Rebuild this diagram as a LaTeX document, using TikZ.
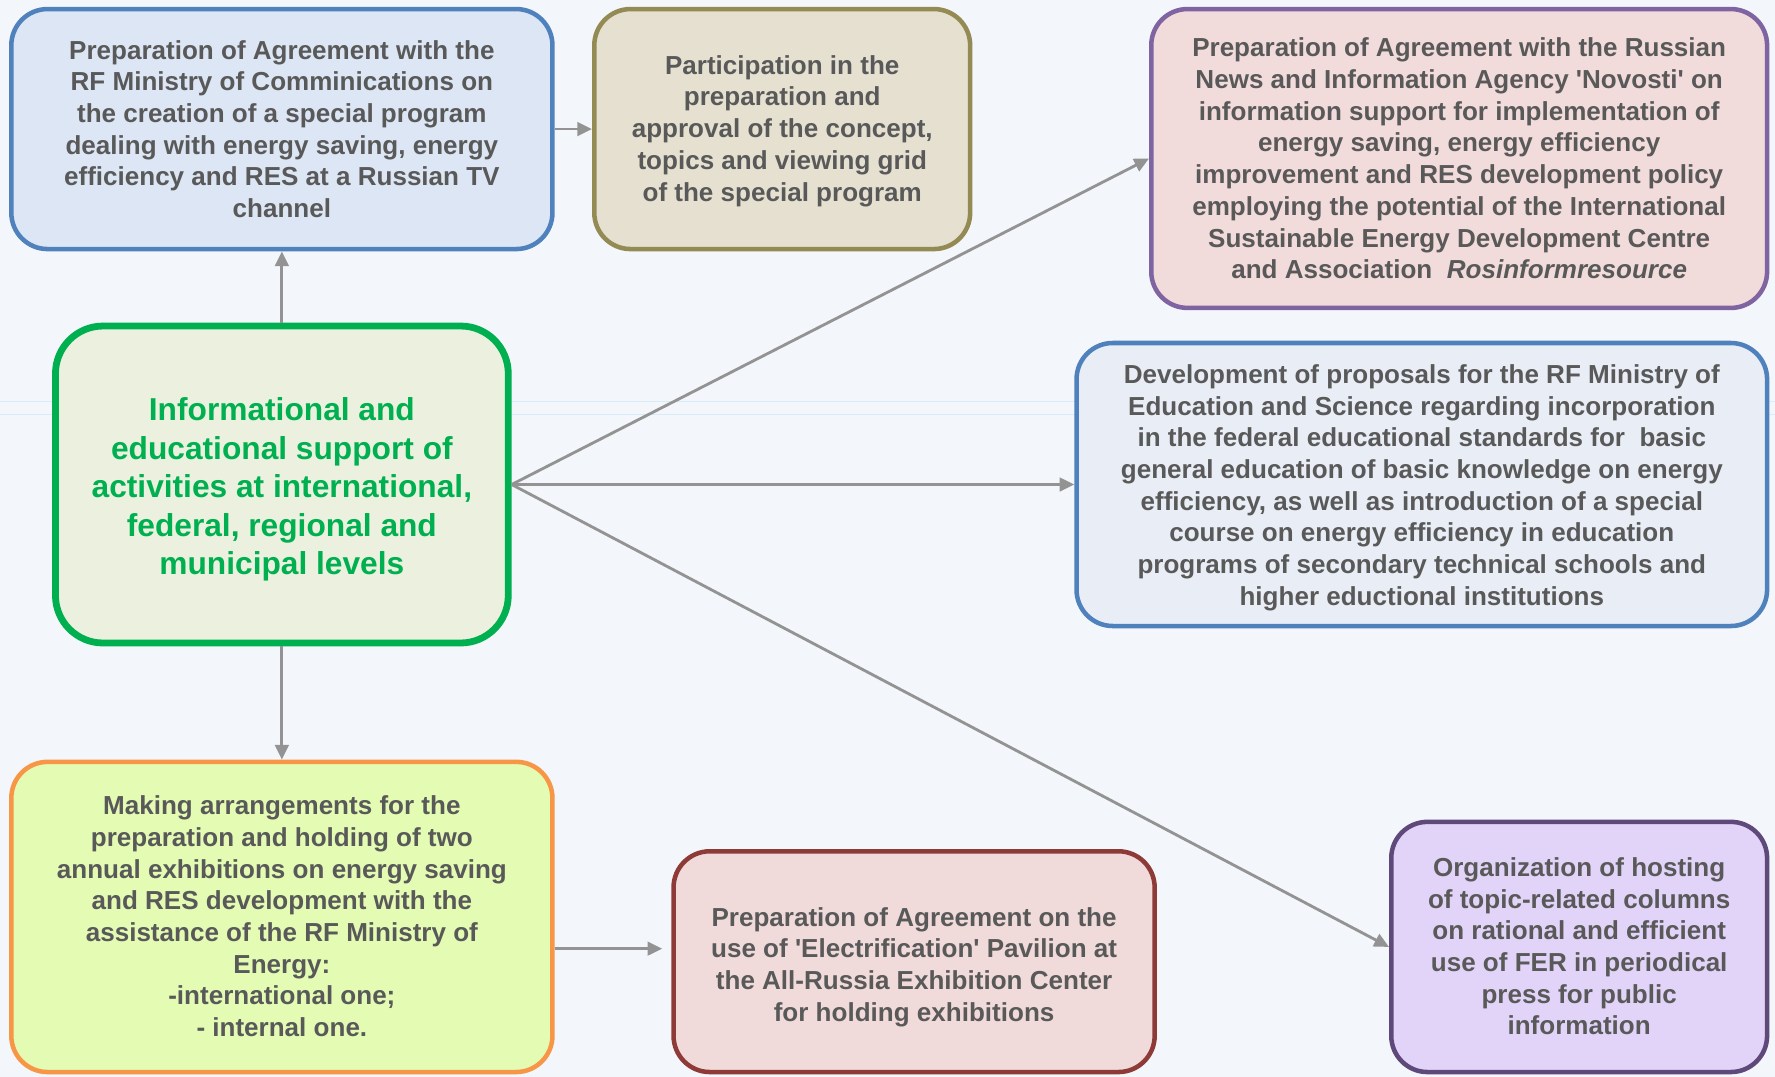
\documentclass[tikz,border=0pt]{standalone}
\usepackage{fontspec}
\newfontfamily\boxfont{Liberation Sans}
\usetikzlibrary{arrows.meta}
\definecolor{bg}{HTML}{F3F6FA}
\definecolor{txt}{HTML}{595959}
\definecolor{arrgray}{HTML}{939393}
\definecolor{bgline}{HTML}{D8ECF8}
\definecolor{fA}{HTML}{DCE6F4}\definecolor{dA}{HTML}{4F81BD}
\definecolor{fB}{HTML}{E5E0D0}\definecolor{dB}{HTML}{948A54}
\definecolor{fC}{HTML}{F2DCDB}\definecolor{dC}{HTML}{8064A2}
\definecolor{fD}{HTML}{EBF1DE}\definecolor{dD}{HTML}{00B050}
\definecolor{fE}{HTML}{E9EEF6}\definecolor{dE}{HTML}{4F81BD}
\definecolor{fF}{HTML}{E4FBB4}\definecolor{dF}{HTML}{F79646}
\definecolor{fG}{HTML}{F0DADA}\definecolor{dG}{HTML}{8E3B38}
\definecolor{fH}{HTML}{E2D4F8}\definecolor{dH}{HTML}{5F497A}
\newcommand\shiftedtext[2]{\raisebox{#1}[\height][\depth]{\begin{tabular}{@{}c@{}}#2\end{tabular}}}
\tikzset{
  box/.style={draw, line width=4pt, rounded corners=32pt, align=center, text=txt,
    font=\boxfont\bfseries\fontsize{23}{28}\selectfont, inner sep=0pt},
  arr/.style={draw=arrgray, line width=2.5pt, -{Triangle[length=13pt,width=12pt]}},
}
\begin{document}
\begin{tikzpicture}[x=1pt,y=-1pt]
\fill[bg] (0,0) rectangle (1568,951);
\useasboundingbox (0,0) rectangle (1568,951);
\draw[bgline, line width=0.8pt] (0,355) -- (1568,355);
\draw[bgline, line width=0.8pt] (0,366) -- (1568,366);

\node[box, fill=fA, draw=dA, minimum width=478pt, minimum height=212pt] (b1) at (249,114)
  {Preparation of Agreement with the\\RF Ministry of Comminications on\\the creation of a special program\\dealing with energy saving, energy\\efficiency and RES at a Russian TV\\channel};
\node[box, fill=fB, draw=dB, minimum width=332pt, minimum height=212pt] (b2) at (691,114)
  {\shiftedtext{-2pt}{Participation in the\\preparation and\\approval of the concept,\\topics and viewing grid\\of the special program}};
\node[box, fill=fC, draw=dC, minimum width=544pt, minimum height=264pt] (b3) at (1289,140)
  {Preparation of Agreement with the Russian\\News and Information Agency 'Novosti' on\\information support for implementation of\\energy saving, energy efficiency\\improvement and RES development policy\\employing the potential of the International\\Sustainable Energy Development Centre\\and Association \ \textit{Rosinformresource}};
\node[box, fill=fD, draw=dD, text=dD, line width=6pt, rounded corners=42pt,
  font=\boxfont\bfseries\fontsize{28}{34}\selectfont,
  minimum width=400pt, minimum height=280pt] (b4) at (249,428)
  {\shiftedtext{-5pt}{Informational and\\educational support of\\activities at international,\\federal, regional and\\municipal levels}};
\node[box, fill=fE, draw=dE, minimum width=610pt, minimum height=250pt] (b5) at (1256,428)
  {\shiftedtext{-3pt}{Development of proposals for the RF Ministry of\\Education and Science regarding incorporation\\in the federal educational standards for \ basic\\general education of basic knowledge on energy\\efficiency, as well as introduction of a special\\course on energy efficiency in education\\programs of secondary technical schools and\\higher eductional institutions}};
\node[box, fill=fF, draw=dF, minimum width=478pt, minimum height=274pt] (b6) at (249,810)
  {\shiftedtext{-2pt}{Making arrangements for the\\preparation and holding of two\\annual exhibitions on energy saving\\and RES development with the\\assistance of the RF Ministry of\\Energy:\\-international one;\\- internal one.}};
\node[box, fill=fG, draw=dG, minimum width=425pt, minimum height=195pt] (b7) at (807.5,849.5)
  {\shiftedtext{-5pt}{Preparation of Agreement on the\\use of 'Electrification' Pavilion at\\the All-Russia Exhibition Center\\for holding exhibitions}};
\node[box, fill=fH, draw=dH, minimum width=332pt, minimum height=221pt] (b8) at (1395,836.5)
  {\shiftedtext{-2pt}{Organization of hosting\\of topic-related columns\\on rational and efficient\\use of FER in periodical\\press for public\\information}};

\draw[arr] (b4.north) -- (b1.south);
\draw[arr] (b1.east) -- (b2.west);
\draw[arr] (b4.east) -- (b3.west);
\draw[arr] (b4.east) -- (b5.west);
\draw[arr] (b4.east) -- (b8.west);
\draw[arr] (b4.south) -- (b6.north);
\coordinate (s67) at ([yshift=-28pt]b6.east);
\draw[arr, shorten >=8pt] (s67) -- (s67 -| b7.west);
\end{tikzpicture}
\end{document}
